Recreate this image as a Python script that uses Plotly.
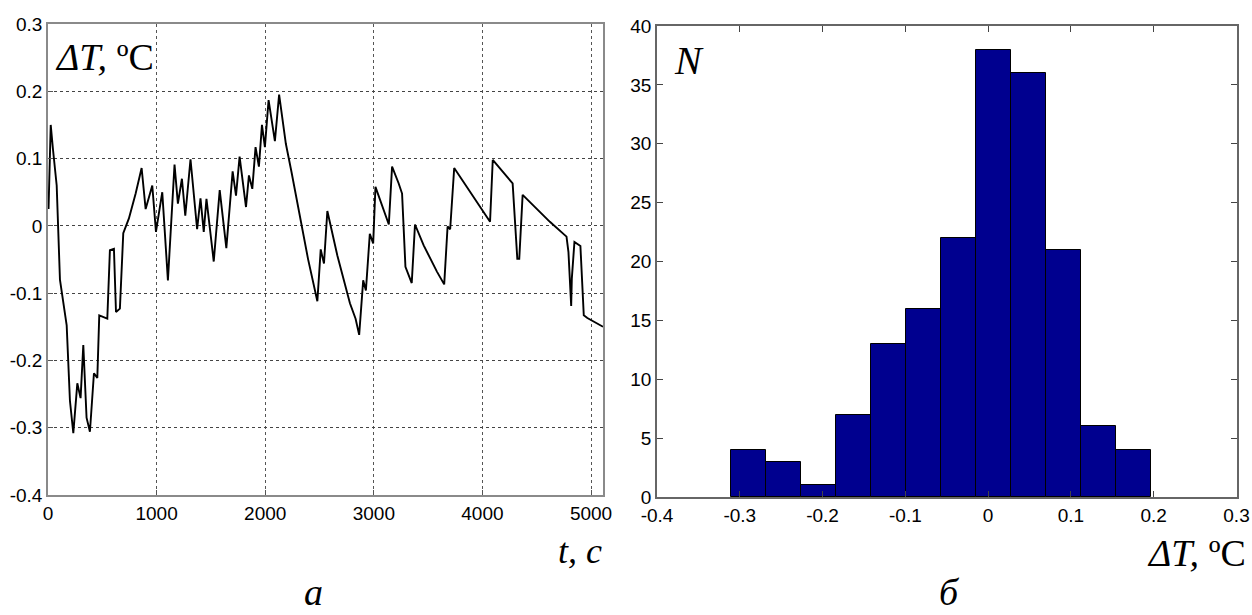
import numpy as np
import plotly.graph_objects as go

# ---------------- data ----------------
# (a) temperature deviation time series
t_s = [5, 25, 45, 80, 110, 172, 202, 233, 270, 300, 325, 355, 386, 423, 454, 472,
       546, 570, 607, 626, 662, 693, 745, 807, 862, 899, 960, 994, 1052, 1104,
       1165, 1196, 1233, 1264, 1312, 1373, 1404, 1434, 1459, 1526, 1581, 1642,
       1700, 1731, 1764, 1823, 1850, 1881, 1911, 1942, 1970, 1997, 2031, 2089,
       2128, 2190, 2242, 2333, 2394, 2480, 2511, 2525, 2541, 2572, 2664, 2780,
       2832, 2865, 2902, 2927, 2963, 2994, 3015, 3138, 3168, 3229, 3260, 3291,
       3349, 3379, 3459, 3581, 3648, 3679, 3703, 3740, 4070, 4095, 4278, 4321,
       4339, 4370, 4621, 4774, 4792, 4817, 4823, 4847, 4902, 4933, 4966, 5110]
dT = [0.025, 0.150, 0.115, 0.060, -0.080, -0.148, -0.260, -0.308, -0.234, -0.256,
      -0.177, -0.285, -0.306, -0.219, -0.226, -0.133, -0.138, -0.036, -0.034,
      -0.128, -0.123, -0.011, 0.011, 0.048, 0.086, 0.025, 0.060, -0.009, 0.050,
      -0.081, 0.091, 0.033, 0.070, 0.015, 0.099, -0.005, 0.041, -0.009, 0.040,
      -0.053, 0.053, -0.033, 0.081, 0.045, 0.103, 0.028, 0.075, 0.055, 0.117,
      0.088, 0.150, 0.117, 0.187, 0.126, 0.195, 0.122, 0.080, 0.001, -0.049,
      -0.112, -0.035, -0.045, -0.056, 0.022, -0.044, -0.115, -0.138, -0.162,
      -0.081, -0.096, -0.012, -0.026, 0.058, 0.002, 0.088, 0.063, 0.048, -0.061,
      -0.085, 0.002, -0.029, -0.068, -0.087, -0.001, -0.005, 0.086, 0.006, 0.098,
      0.063, -0.049, -0.049, 0.046, 0.006, -0.016, -0.039, -0.119, -0.078,
      -0.024, -0.030, -0.133, -0.137, -0.150]

t_ticks = [0, 1000, 2000, 3000, 4000, 5000]
t_ticktext = ["0", "1000", "2000", "3000", "4000", "5000"]
dT_ticks = [-0.4, -0.3, -0.2, -0.1, 0, 0.1, 0.2, 0.3]
dT_ticktext = ["-0.4", "-0.3", "-0.2", "-0.1", "0", "0.1", "0.2", "0.3"]

# (б) histogram of deviations
hist_lo = -0.3106
hist_hi = 0.1964
hist_counts = [4, 3, 1, 7, 13, 16, 22, 38, 36, 21, 6, 4]
n_ticks = [0, 5, 10, 15, 20, 25, 30, 35, 40]
n_ticktext = ["0", "5", "10", "15", "20", "25", "30", "35", "40"]

edges = np.linspace(hist_lo, hist_hi, len(hist_counts) + 1)
centers = (edges[:-1] + edges[1:]) / 2
bw = edges[1] - edges[0]

# ---------------- figure ----------------
W, H = 1252, 615
def px(x):
    return x / W
def py(y):
    return 1 - y / H

fig = go.Figure()
fig.add_trace(go.Scatter(x=t_s, y=dT, mode="lines",
                         line=dict(color="black", width=1.9),
                         xaxis="x", yaxis="y", showlegend=False))
fig.add_trace(go.Bar(x=centers, y=hist_counts, width=bw,
                     marker=dict(color="#00008F", line=dict(color="black", width=1)),
                     xaxis="x2", yaxis="y2", showlegend=False))

tickfont = dict(family="Liberation Sans, Arial, sans-serif", size=19, color="black")

fig.update_layout(
    template="none",
    width=W, height=H,
    margin=dict(l=0, r=0, t=0, b=0, pad=0),
    paper_bgcolor="white", plot_bgcolor="white",
    bargap=0,
    xaxis=dict(domain=[px(48), px(603)], range=[0, 5110], automargin=False,
               tickvals=t_ticks, ticktext=t_ticktext, tickfont=tickfont,
               showgrid=True, gridcolor="#555", griddash="dot", gridwidth=1,
               showline=True, linecolor="#8a8a8a", linewidth=1.5, mirror=True,
               ticks="inside", ticklen=5, tickcolor="#555",
               zeroline=False, anchor="y"),
    yaxis=dict(domain=[py(495), py(24)], range=[-0.4, 0.3], automargin=False,
               tickvals=dT_ticks, ticktext=dT_ticktext, tickfont=tickfont,
               showgrid=True, gridcolor="#444", griddash="dot", gridwidth=1,
               showline=True, linecolor="#8a8a8a", linewidth=1.5, mirror=True,
               ticks="inside", ticklen=5, tickcolor="#555",
               zeroline=False, anchor="x"),
    xaxis2=dict(domain=[px(657), px(1236.5)], range=[-0.4, 0.3], automargin=False,
                tickvals=dT_ticks, ticktext=dT_ticktext, tickfont=tickfont,
                showgrid=False, showline=True, linecolor="#666", linewidth=1.5,
                mirror="ticks", ticks="inside", ticklen=6, tickcolor="#444",
                zeroline=False, anchor="y2"),
    yaxis2=dict(domain=[py(497), py(26)], range=[0, 40], automargin=False,
                tickvals=n_ticks, ticktext=n_ticktext, tickfont=tickfont,
                showgrid=False, showline=True, linecolor="#666", linewidth=1.5,
                mirror="ticks", ticks="inside", ticklen=6, tickcolor="#444",
                zeroline=False, anchor="x2"),
)

serif = "Liberation Serif, Times New Roman, serif"
def label(text, x, y, xanchor, size=38, yanchor="middle"):
    fig.add_annotation(text=text, xref="paper", yref="paper", x=px(x), y=py(y),
                       xanchor=xanchor, yanchor=yanchor, showarrow=False,
                       font=dict(family=serif, size=size, color="black"))

label("<i>ΔT,</i> ºC", 53, 57, "left")
label("<i>t, c</i>", 604, 551, "right", 36)
label("<i>а</i>", 313, 615, "center", 38, "bottom")
label("<i>N</i>", 672, 61, "left", 40)
label("<i>ΔT,</i> ºC", 1248, 553, "right")
label("<i>б</i>", 949, 615, "center", 38, "bottom")

fig.write_html("out.html",
               config={"displayModeBar": False},
               post_script="document.body.style.margin='0';"
                           "document.body.style.overflow='hidden';")
